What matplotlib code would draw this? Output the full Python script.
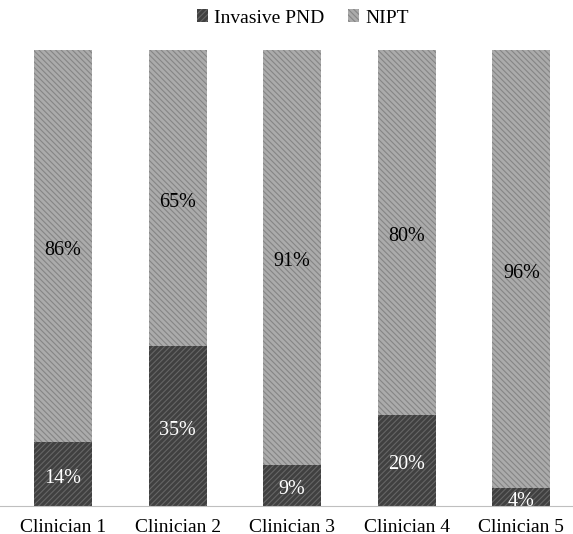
import numpy as np
import matplotlib.pyplot as plt

# ==============Data============
clinicians = ['Clinician 1', 'Clinician 2', 'Clinician 3', 'Clinician 4', 'Clinician 5']
invasive = [14, 35, 9, 20, 4]
nipt = [86, 65, 91, 80, 96]
#===============================

plt.rcParams['font.family'] = ['Liberation Serif', 'DejaVu Serif']
plt.rcParams['hatch.linewidth'] = 0.8

fig = plt.figure(figsize=(5.73, 5.34), dpi=100)
ax = fig.add_axes([0, 0.0524, 1, 0.854])

x = np.arange(len(clinicians))
width = 0.506

b1 = ax.bar(x, invasive, width, color='#404040', edgecolor='#666666',
            hatch='//////', linewidth=0, label='Invasive PND')
b2 = ax.bar(x, nipt, width, bottom=invasive, color='#ababab', edgecolor='#858585',
            hatch='\\\\\\\\\\\\', linewidth=0, label='NIPT')

for i in range(len(clinicians)):
    ax.annotate(f'{invasive[i]}%', (x[i], invasive[i] / 2), xytext=(0, -3),
                textcoords='offset points', ha='center', va='center',
                color='white', fontsize=14.5)
    ax.annotate(f'{nipt[i]}%', (x[i], invasive[i] + nipt[i] / 2), xytext=(0, -3),
                textcoords='offset points', ha='center', va='center',
                color='black', fontsize=14.5)

ax.set_xlim(-0.55, 4.45)
ax.set_ylim(0, 100)
ax.set_xticks(x)
ax.set_xticklabels(clinicians, fontsize=14)
ax.tick_params(axis='x', length=0, pad=9)
ax.set_yticks([])
for s in ['top', 'left', 'right']:
    ax.spines[s].set_visible(False)
ax.spines['bottom'].set_color('#bfbfbf')

fig.legend(handles=[b1, b2], loc='upper center', bbox_to_anchor=(0.528, 1.015), ncol=2,
           frameon=False, fontsize=14, handlelength=0.6, handleheight=0.6,
           handletextpad=0.3, columnspacing=1.2)

fig.savefig('out.png')
